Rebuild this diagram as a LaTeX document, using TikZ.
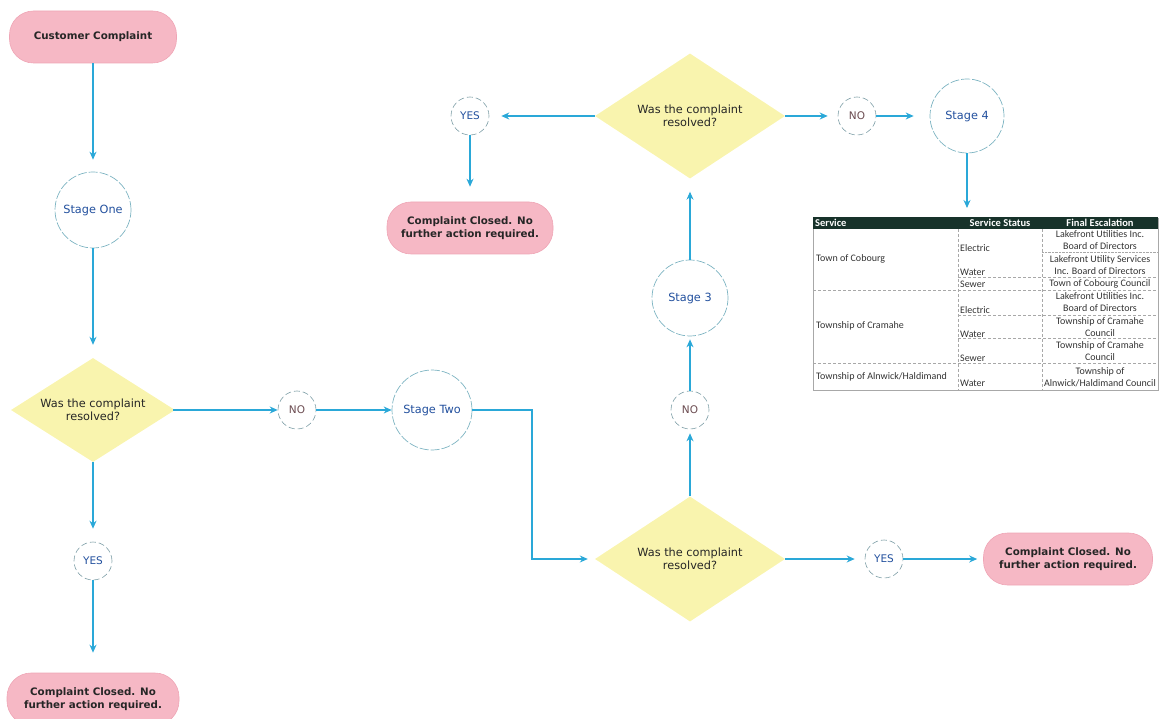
\documentclass[tikz,border=0pt]{standalone}
\usepackage{fontspec}
\setmainfont{DejaVu Sans}
\newfontfamily\tabfont{Carlito}
\usetikzlibrary{shapes.geometric,arrows.meta,calc}
\definecolor{pinkfill}{HTML}{F6B8C5}
\definecolor{pinkedge}{HTML}{EFA6B6}
\definecolor{dfill}{HTML}{F9F4AE}
\definecolor{arr}{HTML}{2AA8D8}
\definecolor{cedge}{HTML}{7DB4C2}
\definecolor{ctext}{HTML}{22509E}
\definecolor{notext}{HTML}{6B4B50}
\definecolor{hdr}{HTML}{17322A}
\definecolor{gridc}{HTML}{A8A8A8}
\begin{document}
\begin{tikzpicture}[x=1pt,y=-1pt,
  pill/.style={rectangle, rounded corners=24pt, fill=pinkfill, draw=pinkedge, line width=0.6pt,
    font=\bfseries\fontsize{10.3}{13}\selectfont, align=center, text=black!85, minimum height=52pt},
  dia/.style={diamond, fill=dfill, draw=none, inner sep=0pt, aspect=1.5,
    font=\fontsize{11.3}{13}\selectfont, align=center, text=black!85},
  stagec/.style={circle, draw=cedge, dash pattern=on 9pt off 2pt, line width=0.7pt, fill=white,
    font=\fontsize{11.3}{13}\selectfont, text=ctext, inner sep=0pt, minimum size=76pt},
  smallc/.style={circle, draw=cedge!60!gray, dash pattern=on 6pt off 3pt, line width=0.6pt, fill=white,
    font=\fontsize{10.5}{12}\selectfont, inner sep=0pt, minimum size=38pt},
  flow/.style={draw=arr, line width=1.1pt, -{Stealth[length=8pt,width=7pt]}},
  cell/.style={font=\tabfont\fontsize{10}{12}\selectfont, inner sep=0pt, text=black!80},
  hcell/.style={font=\tabfont\bfseries\fontsize{10.5}{11}\selectfont, inner sep=0pt, text=white},
  gl/.style={draw=gridc, line width=0.4pt, densely dashed}
]
\useasboundingbox (0,0) rectangle (1165,719);

% left column
\node[pill, minimum width=167pt] (cc) at (93,37) {Customer Complaint};
\node[stagec] (s1) at (93,210) {Stage One};
\node[dia, minimum width=164pt, minimum height=104pt] (d1) at (93,410) {Was the complaint\\resolved?};
\node[smallc, text=notext] (no1) at (297,410) {NO};
\node[stagec, minimum size=80pt] (s2) at (432,410) {Stage Two};
\node[smallc, text=ctext] (yes1) at (93,561) {YES};
\node[pill, minimum width=172pt] (cl1) at (93,699) {Complaint Closed. No\\further action required.};

% middle
\node[dia, minimum width=190pt, minimum height=125pt] (d2) at (690,559) {Was the complaint\\resolved?};
\node[smallc, text=notext] (no2) at (690,410) {NO};
\node[stagec] (s3) at (690,298) {Stage 3};
\node[dia, minimum width=190pt, minimum height=125pt] (d3) at (690,116) {Was the complaint\\resolved?};
\node[smallc, text=ctext] (yes3) at (470,116) {YES};
\node[pill, minimum width=166pt] (cl3) at (470,228) {Complaint Closed. No\\further action required.};
\node[smallc, text=notext] (no3) at (857,116) {NO};
\node[stagec, minimum size=74pt] (s4) at (967,116) {Stage 4};
\node[smallc, text=ctext] (yes2) at (884,559) {YES};
\node[pill, minimum width=169pt] (cl2) at (1068,559) {Complaint Closed. No\\further action required.};

% connectors
\draw[flow, shorten >=12pt] (cc) -- (s1);
\draw[flow, shorten >=13pt] (s1) -- (d1);
\draw[flow, shorten <=-2pt] (d1) -- (no1);
\draw[flow] (no1) -- (s2);
\draw[flow, shorten >=13pt] (d1) -- (yes1);
\draw[flow, shorten >=20pt] (yes1) -- (cl1);
\coordinate (e2) at (532,410);
\draw[flow, shorten >=7pt] (s2.east) -- (e2) |- (d2.west);
\draw[flow, shorten >=4pt] (d2) -- (no2);
\draw[flow, shorten >=3pt] (no2) -- (s3);
\draw[flow, shorten >=13pt] (s3) -- (d3);
\draw[flow, shorten >=12pt] (d3) -- (yes3);
\draw[flow, shorten >=15pt] (yes3) -- (cl3);
\draw[flow, shorten >=10pt] (d3) -- (no3);
\draw[flow, shorten >=16pt] (no3) -- (s4);
\draw[flow, shorten >=10pt] (d2) -- (yes2);
\draw[flow, shorten >=6pt] (yes2) -- (cl2);

% table
\node[draw=gridc, line width=0.4pt, minimum width=345pt, minimum height=172pt, anchor=north west, inner sep=0pt] (tab) at (813,218) {};
\draw[flow, shorten >=10pt] (s4.south) -- (s4.south |- tab.north);
\fill[hdr] (813,217) rectangle (1158,229);
\draw[gl] (958,229) -- (958,390);
\draw[gl] (1042,229) -- (1042,390);
\draw[gl] (813,290) -- (1158,290);
\draw[gl] (813,363) -- (1158,363);
\draw[gl] (958,277) -- (1158,277);
\draw[gl] (958,315) -- (1158,315);
\draw[gl] (958,338) -- (1158,338);
\draw[gl, densely dotted] (1042,252) -- (1158,252);

\node[hcell, anchor=west] (h1) at (815,223) {Service};
\node[hcell] (h2) at (1000,223) {Service Status};
\node[hcell] (h3) at (1100,223) {Final Escalation};

\node[cell, anchor=west] (t1) at (816,259) {Town of Cobourg};
\node[cell, anchor=west] (t2) at (816,326) {Township of Cramahe};
\node[cell, anchor=west] (t3) at (816,377) {Township of Alnwick/Haldimand};

\node[cell, anchor=west] (a1) at (960,248) {Electric};
\node[cell, anchor=west] (a2) at (960,272) {Water};
\node[cell, anchor=west] (a3) at (960,284) {Sewer};
\node[cell, anchor=west] (a4) at (960,310) {Electric};
\node[cell, anchor=west] (a5) at (960,334) {Water};
\node[cell, anchor=west] (a6) at (960,358) {Sewer};
\node[cell, anchor=west] (a7) at (960,383) {Water};

\node[cell, align=center] (f1) at (1100,240.5) {Lakefront Utilities Inc.\\Board of Directors};
\node[cell, align=center] (f2) at (1100,265) {Lakefront Utility Services\\Inc. Board of Directors};
\node[cell, align=center] (f3) at (1100,284) {Town of Cobourg Council};
\node[cell, align=center] (f4) at (1100,302.5) {Lakefront Utilities Inc.\\Board of Directors};
\node[cell, align=center] (f5) at (1100,327) {Township of Cramahe\\Council};
\node[cell, align=center] (f6) at (1100,351) {Township of Cramahe\\Council};
\node[cell, align=center] (f7) at (1100,377) {Township of\\Alnwick/Haldimand Council};
\end{tikzpicture}
\end{document}
